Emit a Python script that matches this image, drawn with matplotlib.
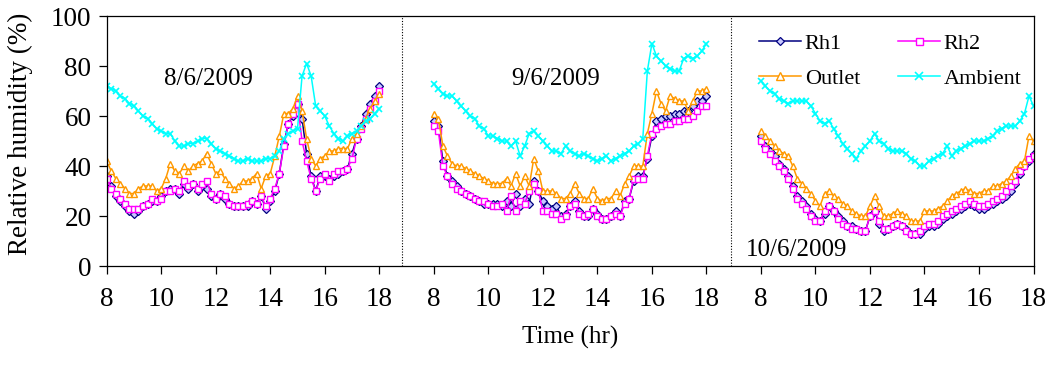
import numpy as np
import matplotlib
matplotlib.use("Agg")
import matplotlib.pyplot as plt

plt.rcParams['font.family'] = ['Liberation Serif', 'DejaVu Serif']

# readings every 10 min, 8:00 - 18:00
days = ['8/6/2009', '9/6/2009', '10/6/2009']

rh1_0806 = [36, 32, 28, 26, 24, 22, 21, 22, 24, 25, 26, 26, 28, 30, 31, 31, 29, 33, 31, 33,
            30, 32, 31, 28, 27, 29, 27, 25, 24, 24, 24, 24, 26, 25, 28, 23, 26, 30, 37, 49,
            57, 60, 65, 59, 45, 36, 30, 36, 36, 35, 36, 37, 38, 39, 45, 51, 56, 61, 65, 68, 72]
rh2_0806 = [35, 31, 29, 27, 25, 23, 23, 23, 24, 25, 27, 26, 27, 30, 30, 31, 30, 34, 32, 33,
            31, 33, 34, 29, 27, 29, 28, 25, 24, 24, 24, 25, 26, 25, 28, 24, 27, 31, 37, 48,
            57, 61, 65, 50, 42, 35, 30, 35, 37, 34, 37, 38, 38, 39, 43, 51, 55, 59, 63, 66, 70]
outlet_0806 = [42, 38, 35, 33, 31, 29, 29, 31, 32, 32, 32, 30, 31, 35, 41, 38, 37, 40, 38, 40,
               41, 42, 45, 41, 37, 38, 35, 33, 31, 32, 34, 34, 35, 37, 31, 36, 37, 44, 52, 61,
               61, 63, 68, 62, 51, 43, 40, 43, 44, 46, 46, 47, 47, 47, 51, 53, 56, 59, 63, 66, 69]
ambient_0806 = [72, 71, 70, 68, 67, 65, 64, 62, 60, 59, 57, 55, 54, 53, 53, 50, 48, 48, 49, 49,
                50, 51, 51, 49, 47, 46, 45, 44, 43, 42, 42, 43, 42, 42, 42, 43, 43, 44, 46, 51,
                53, 54, 55, 76, 81, 76, 64, 62, 60, 56, 53, 51, 50, 52, 53, 54, 56, 58, 59, 61, 63]

rh1_0906 = [58, 56, 42, 36, 34, 32, 30, 29, 28, 27, 26, 25, 25, 25, 25, 24, 26, 24, 29, 24,
            27, 25, 34, 30, 26, 24, 23, 24, 20, 21, 24, 26, 22, 20, 20, 23, 21, 19, 19, 20,
            22, 20, 26, 27, 34, 36, 36, 43, 52, 58, 59, 60, 60, 61, 61, 62, 62, 64, 66, 66, 68]
rh2_0906 = [56, 54, 40, 36, 33, 31, 30, 29, 28, 27, 26, 26, 25, 24, 24, 25, 22, 28, 22, 26,
            25, 30, 33, 30, 22, 22, 21, 21, 19, 20, 24, 25, 21, 20, 21, 23, 20, 19, 19, 20,
            21, 20, 25, 27, 35, 35, 35, 44, 53, 55, 56, 57, 57, 58, 58, 59, 59, 60, 62, 64, 64]
outlet_0906 = [61, 59, 48, 44, 41, 40, 40, 39, 38, 37, 36, 35, 34, 33, 33, 33, 35, 32, 37, 32,
               36, 32, 43, 38, 30, 30, 30, 29, 27, 27, 29, 33, 29, 27, 27, 31, 27, 26, 27, 27,
               30, 28, 33, 36, 40, 40, 40, 53, 61, 70, 65, 62, 68, 67, 66, 66, 62, 66, 70, 70, 71]
ambient_0906 = [73, 71, 69, 68, 68, 66, 64, 62, 60, 59, 56, 55, 52, 52, 51, 50, 50, 48, 50, 44,
                48, 53, 54, 52, 50, 48, 46, 46, 45, 48, 46, 45, 44, 45, 44, 43, 42, 43, 44, 42,
                43, 44, 45, 46, 48, 49, 51, 78, 89, 84, 82, 80, 79, 78, 78, 83, 84, 83, 84, 86, 89]

rh1_1006 = [52, 48, 46, 44, 41, 39, 36, 32, 28, 26, 24, 21, 19, 18, 21, 24, 22, 20, 18, 16,
            16, 15, 14, 14, 20, 22, 17, 14, 15, 16, 17, 16, 15, 13, 13, 13, 15, 16, 16, 17,
            19, 20, 21, 22, 23, 24, 25, 24, 23, 23, 24, 25, 26, 27, 28, 30, 33, 37, 40, 42, 45]
rh2_1006 = [50, 47, 45, 42, 40, 38, 35, 31, 27, 25, 23, 20, 18, 18, 22, 24, 22, 19, 17, 16,
            15, 15, 14, 14, 20, 22, 18, 15, 15, 16, 17, 16, 14, 13, 13, 14, 16, 17, 17, 18,
            20, 21, 22, 23, 24, 25, 26, 25, 24, 24, 25, 26, 27, 28, 30, 32, 34, 38, 40, 43, 44]
outlet_1006 = [54, 52, 50, 48, 46, 45, 44, 40, 35, 33, 31, 29, 26, 24, 29, 30, 28, 27, 25, 24,
               22, 21, 20, 20, 24, 28, 24, 20, 20, 21, 22, 21, 20, 18, 18, 18, 22, 22, 22, 23,
               24, 26, 28, 29, 30, 31, 30, 29, 29, 30, 30, 32, 32, 33, 34, 36, 39, 41, 42, 52, 50]
ambient_1006 = [74, 72, 70, 69, 67, 66, 65, 66, 66, 66, 66, 64, 61, 58, 57, 58, 55, 52, 49, 47,
                45, 43, 46, 48, 50, 53, 50, 49, 47, 46, 46, 46, 45, 43, 42, 40, 40, 42, 43, 44,
                45, 48, 44, 46, 47, 48, 49, 50, 50, 50, 51, 52, 54, 55, 56, 56, 56, 58, 61, 68, 64]

rh1 = [rh1_0806, rh1_0906, rh1_1006]
rh2 = [rh2_0806, rh2_0906, rh2_1006]
outlet = [outlet_0806, outlet_0906, outlet_1006]
ambient = [ambient_0806, ambient_0906, ambient_1006]

hour_ticks = [8, 10, 12, 14, 16, 18]
t = 8 + np.arange(61) / 6.0
gap = 12  # each day shifted 12 hr along the axis

fig = plt.figure(figsize=(10.48, 3.67), dpi=100)
ax = fig.add_axes([0.1018, 0.2752, 0.8844, 0.6812])

for p in range(3):
    x = t + gap * p
    lab = (lambda s: s) if p == 0 else (lambda s: '_nolegend_')
    ax.plot(x, rh1[p], color='#000080', lw=1.1, marker='D', ms=3.6, mfc='#c8c8ff',
            mec='#000080', mew=0.9, label=lab('Rh1'))
    ax.plot(x, rh2[p], color='#ff00ff', lw=1.1, marker='s', ms=4.2, mfc='white',
            mec='#ff00ff', mew=1.0, label=lab('Rh2'))
    ax.plot(x, outlet[p], color='#ff9900', lw=1.1, marker='^', ms=5, mfc='white',
            mec='#ff9900', mew=1.0, label=lab('Outlet'))
    ax.plot(x, ambient[p], color='#00ffff', lw=1.1, marker='x', ms=5, mew=1.2,
            label=lab('Ambient'))

for xs in (18.85, 30.9):
    ax.axvline(xs, color='black', lw=0.8, ls=(0, (1, 1.5)))

ax.text(11.72, 75, days[0], fontsize=18, ha='center', va='center')
ax.text(24.48, 75, days[1], fontsize=18, ha='center', va='center')
ax.text(33.3, 6.4, days[2], fontsize=18, ha='center', va='center')

ticks = [h + gap * p for p in range(3) for h in hour_ticks]
ax.set_xticks(ticks)
ax.set_xticklabels([str(h) for p in range(3) for h in hour_ticks])
ax.set_xlim(8, 42)
ax.set_ylim(0, 100)
ax.set_yticks(range(0, 101, 20))
ax.tick_params(axis='both', direction='out', length=6, width=0.9, labelsize=19.5, colors='black')
ax.tick_params(axis='x', pad=9)
ax.tick_params(axis='y', pad=5)
for s in ax.spines.values():
    s.set_linewidth(0.9)

ax.set_xlabel('Time (hr)', fontsize=18, labelpad=10)
ax.set_ylabel('Relative humidity (%)', fontsize=19.5)
ax.yaxis.set_label_coords(-0.080, 0.53)

h, l = ax.get_legend_handles_labels()
order = [0, 2, 1, 3]
ax.legend([h[i] for i in order], [l[i] for i in order], ncol=2, frameon=False,
          loc='upper left', bbox_to_anchor=(0.704, 0.93), fontsize=16,
          handlelength=1.9, handletextpad=0.15, columnspacing=1.7,
          labelspacing=0.65, borderaxespad=0, borderpad=0, markerscale=1.2)

fig.savefig('out.png', dpi=100)
